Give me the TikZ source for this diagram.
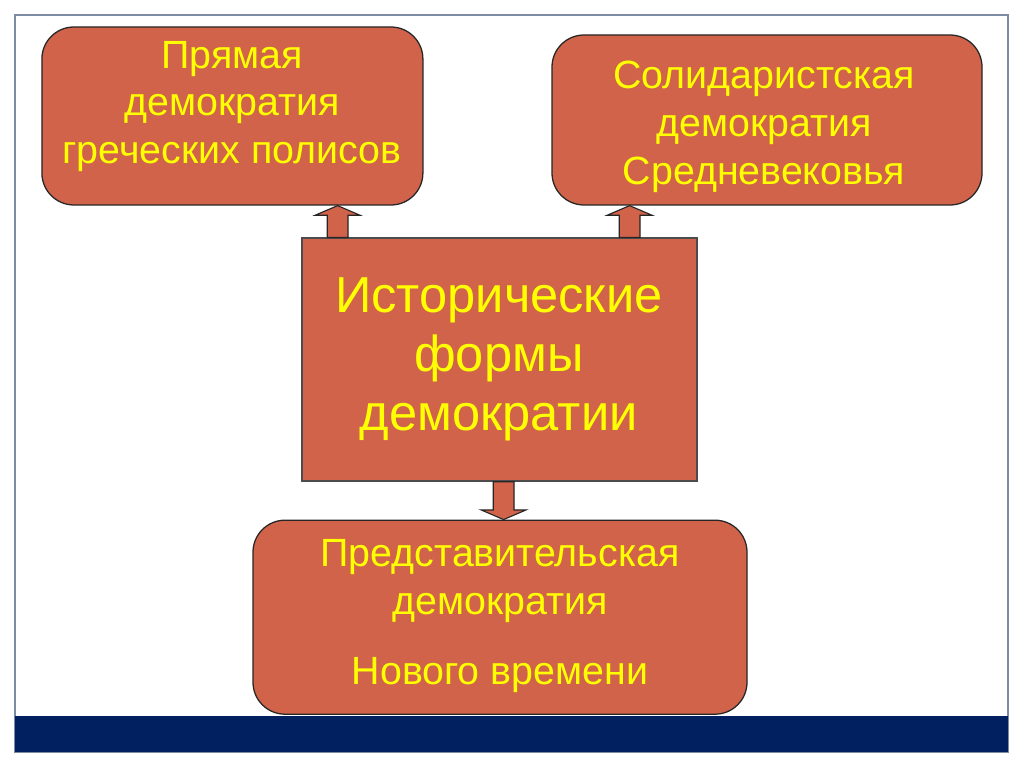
\documentclass[tikz,border=0pt]{standalone}
\usepackage{fontspec}
\setmainfont{Liberation Sans}
\usetikzlibrary{calc}
\definecolor{brick}{RGB}{209,99,75}
\definecolor{navybar}{RGB}{0,32,96}
\definecolor{framegray}{RGB}{125,140,165}
\definecolor{txtyellow}{RGB}{255,255,0}
\newcommand{\blockarrow}[2]{%
  \draw[arrowbox] let \p1=(#1), \p2=(#2), \n1={sign(\y2-\y1)} in
    (\x1-0.26cm,\y1) -- (\x1-0.26cm,\y2-\n1*0.24cm) -- (\x1-0.56cm,\y2-\n1*0.24cm)
    -- (\x1,\y2) -- (\x1+0.56cm,\y2-\n1*0.24cm) -- (\x1+0.26cm,\y2-\n1*0.24cm)
    -- (\x1+0.26cm,\y1) -- cycle;}
\begin{document}
\begin{tikzpicture}
        \tikzstyle{formbox}=[draw=black!85,fill=brick,line width=0.9pt,rounded corners=0.8cm,inner sep=0]
        \tikzstyle{mainbox}=[draw=black!70,fill=brick,line width=0.9pt,inner sep=0]
        \tikzstyle{arrowbox}=[draw=black!85,fill=brick,line width=0.8pt]
        \tikzstyle{smalltxt}=[text=txtyellow,align=center,anchor=north,inner sep=0,font=\fontsize{28}{34}\selectfont]
        \tikzstyle{bigtxt}=[text=txtyellow,align=center,anchor=north,inner sep=0,font=\fontsize{36}{42}\selectfont]
        \useasboundingbox[fill=white] (0,0) rectangle (25.6,-19.175);
        \draw[framegray,line width=0.8pt] (0.375,-0.375) rectangle (25.2,-18.8);
        \fill[navybar] (0.375,-17.9) rectangle (25.2,-18.8);

        \node[formbox,minimum width=9.525cm,minimum height=4.45cm] (tl) at (5.81,-2.9) {};
        \node[formbox,minimum width=10.75cm,minimum height=4.25cm] (tr) at (19.175,-3.0) {};
        \node[mainbox,minimum width=9.875cm,minimum height=6.075cm] (c) at (12.49,-8.99) {};
        \node[formbox,minimum width=12.35cm,minimum height=4.85cm] (b) at (12.5,-15.43) {};

        \node[smalltxt] (tltext) at (5.8,-1.02) {Прямая\\демократия\\греческих полисов};
        \node[smalltxt] (trtext) at (19.1,-1.53) {Солидаристская\\демократия\\Средневековья};
        \node[bigtxt] (ctext) at (12.47,-6.93) {Исторические\\формы\\демократии};
        \node[smalltxt] (btext) at (12.5,-13.48) {Представительская\\демократия\\[16pt]Нового времени};

        \coordinate (la) at (8.44,0);
        \coordinate (ra) at (15.74,0);
        \coordinate (da) at (12.59,0);
        \blockarrow{c.north -| la}{tl.south -| la}
        \blockarrow{c.north -| ra}{tr.south -| ra}
        \blockarrow{c.south -| da}{b.north -| da}
    \end{tikzpicture}
\end{document}
